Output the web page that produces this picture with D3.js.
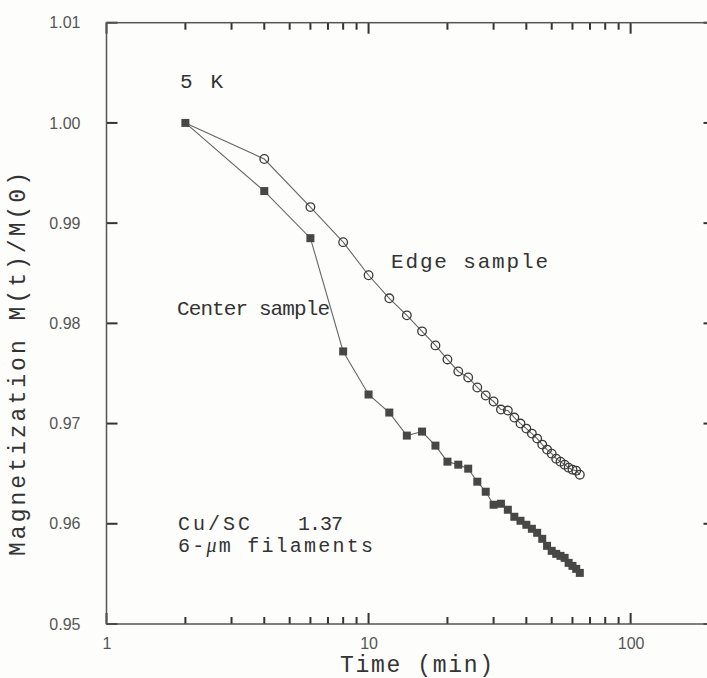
<!DOCTYPE html>
<html>
<head>
<meta charset="utf-8">
<script src="https://cdn.jsdelivr.net/npm/d3@7"></script>
<style>
  body { margin: 0; background: #fdfdfb; }
  svg { display: block; }
  .tick text { font-family: "Liberation Sans", Arial, sans-serif; font-size: 16px; fill: #555; }
  .lbl { font-family: "Liberation Mono", "Courier New", monospace; fill: #333; }
</style>
</head>
<body>
<svg></svg>
<script>
// time in minutes, both samples measured at the same times
var times = [2, 4, 6, 8, 10, 12, 14, 16, 18, 20, 22, 24, 26, 28, 30, 32,
             34, 36, 38, 40, 42, 44, 46, 48, 50, 52, 54, 56, 58, 60, 62, 64];

// M(t)/M(0), open circles
var edgeM = [1.0000, 0.9964, 0.9916, 0.9881, 0.9848, 0.9825, 0.9808, 0.9792,
             0.9778, 0.9764, 0.9752, 0.9746, 0.9736, 0.9728, 0.9722, 0.9714,
             0.9713, 0.9706, 0.9700, 0.9695, 0.9690, 0.9685, 0.9679, 0.9674,
             0.9670, 0.9665, 0.9662, 0.9659, 0.9656, 0.9654, 0.9653, 0.9649];

// M(t)/M(0), filled squares
var centerM = [1.0000, 0.9932, 0.9885, 0.9772, 0.9729, 0.9711, 0.9688, 0.9692,
               0.9678, 0.9662, 0.9659, 0.9655, 0.9642, 0.9632, 0.9619, 0.9620,
               0.9614, 0.9607, 0.9603, 0.9599, 0.9595, 0.9591, 0.9585, 0.9578,
               0.9573, 0.9570, 0.9568, 0.9566, 0.9561, 0.9558, 0.9555, 0.9551];

var yTicks = [0.95, 0.96, 0.97, 0.98, 0.99, 1.00, 1.01];
var yTickLabels = ["0.95", "0.96", "0.97", "0.98", "0.99", "1.00", "1.01"];
var xMajor = [1, 10, 100];
var xMajorLabels = ["1", "10", "100"];
var xMinor = [2, 3, 4, 5, 6, 7, 8, 9, 20, 30, 40, 50, 60, 70, 80, 90];

var width = 707;
var height = 678;
// note: "top" is taken by window.top, so use other names
var padL = 106.5, padR = 709.5, padT = 22.7, padB = 624;

var svg = d3.select("svg").attr("width", width).attr("height", height);

var x = d3.scaleLog().domain([1, 200]).range([padL, padR]);
var y = d3.scaleLinear().domain([0.95, 1.01]).range([padB, padT]);

// axis labels from d3 axes, tick marks drawn by hand below (inward)
function clean(g) {
    g.select(".domain").remove();
    g.selectAll(".tick line").remove();
}

svg.append("g").attr("transform", "translate(" + padL + ",0)")
    .call(d3.axisLeft(y).tickValues(yTicks).tickSize(0).tickPadding(26)
        .tickFormat(function (d, i) { return yTickLabels[i]; }))
    .call(clean);

svg.append("g").attr("transform", "translate(0," + padB + ")")
    .call(d3.axisBottom(x).tickValues(xMajor).tickSize(0).tickPadding(14)
        .tickFormat(function (d, i) { return xMajorLabels[i]; }))
    .call(clean);

// tick marks as short paths
function tickPath(x1, y1, x2, y2) {
    svg.append("path")
        .attr("d", "M" + x1 + "," + y1 + "L" + x2 + "," + y2)
        .attr("fill", "none")
        .attr("stroke", "#333")
        .attr("stroke-width", 2);
}

function xTicks(vals, len) {
    vals.forEach(function (v) {
        tickPath(x(v), padB, x(v), padB - len);
        tickPath(x(v), padT, x(v), padT + len);
    });
}
xTicks(xMajor, 11);
xTicks(xMinor, 7);

yTicks.forEach(function (v) {
    tickPath(padL, y(v), padL + 11, y(v));
    tickPath(padR, y(v), padR - 6, y(v));
});

// frame
svg.append("rect")
    .attr("x", padL).attr("y", padT)
    .attr("width", padR - padL).attr("height", padB - padT)
    .attr("fill", "none").attr("stroke", "#555").attr("stroke-width", 1.5);

var line = d3.line()
    .x(function (d) { return x(d[0]); })
    .y(function (d) { return y(d[1]); });

var edgePts = times.map(function (t, i) { return [t, edgeM[i]]; });
var centerPts = times.map(function (t, i) { return [t, centerM[i]]; });

svg.append("path").datum(centerPts).attr("d", line)
    .attr("fill", "none").attr("stroke", "#666").attr("stroke-width", 1.1);
svg.append("path").datum(edgePts).attr("d", line)
    .attr("fill", "none").attr("stroke", "#666").attr("stroke-width", 1.1);

svg.selectAll(".sq").data(centerPts).enter().append("rect")
    .attr("class", "sq")
    .attr("x", function (d) { return x(d[0]) - 4; })
    .attr("y", function (d) { return y(d[1]) - 4; })
    .attr("width", 8).attr("height", 8)
    .attr("fill", "#474747");

// first edge point sits under the filled square at t=2
svg.selectAll(".ci").data(edgePts.slice(1)).enter().append("circle")
    .attr("class", "ci")
    .attr("cx", function (d) { return x(d[0]); })
    .attr("cy", function (d) { return y(d[1]); })
    .attr("r", 4.3)
    .attr("fill", "none").attr("stroke", "#3a3a3a").attr("stroke-width", 1.3);

// labels
function label(txt, px, py, len, size) {
    return svg.append("text").attr("class", "lbl")
        .attr("x", px).attr("y", py)
        .attr("font-size", size || 21)
        .attr("textLength", len).attr("lengthAdjust", "spacing")
        .text(txt);
}

label("5 K", 180, 88, 43);
label("Edge sample", 391, 268, 157);
label("Center sample", 177, 315, 153);
label("Cu/SC", 178, 530, 72, 20);
label("1.37", 298, 530, 45, 20);

var fil = svg.append("text").attr("class", "lbl")
    .attr("x", 178).attr("y", 552).attr("font-size", 20)
    .attr("textLength", 195).attr("lengthAdjust", "spacing");
fil.append("tspan").text("6-");
fil.append("tspan").attr("font-family", "Liberation Serif, serif")
    .attr("font-style", "italic").text("\u03bc");
fil.append("tspan").text("m filaments");

label("Time (min)", 340, 672, 153, 23);

svg.append("text").attr("class", "lbl")
    .attr("transform", "translate(25,364) rotate(-90)")
    .attr("text-anchor", "middle")
    .attr("font-size", 23)
    .attr("textLength", 384).attr("lengthAdjust", "spacing")
    .text("Magnetization M(t)/M(0)");
</script>
</body>
</html>
